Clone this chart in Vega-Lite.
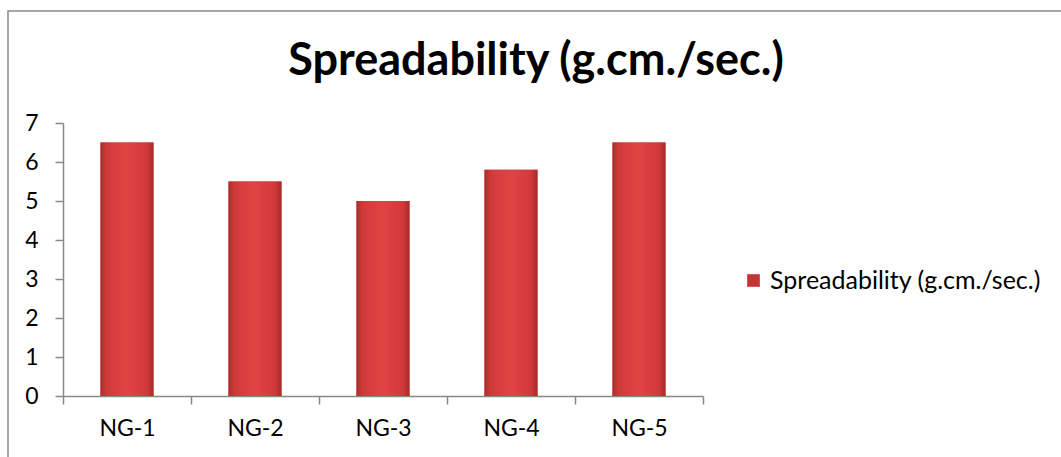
{
  "$schema": "https://vega.github.io/schema/vega-lite/v6.json",
  "width": 1100,
  "height": 500,
  "autosize": {"type": "none"},
  "padding": {"left": 8, "top": 11, "right": 0, "bottom": 0},
  "background": "white",
  "config": {"view": {"stroke": "#8a8a8a", "strokeWidth": 1.5}, "font": "Lato"},
  "title": {
    "text": "Spreadability (g.cm./sec.)",
    "font": "Lato",
    "fontSize": 45,
    "fontWeight": "bold",
    "color": "#000000",
    "anchor": "middle",
    "offset": 0,
    "baseline": "alphabetic",
    "dy": 109,
    "dx": -22
  },
  "data": {
    "values": [
      {"sample": "NG-1", "value": 6.5, "series": "Spreadability (g.cm./sec.)"},
      {"sample": "NG-2", "value": 5.5, "series": "Spreadability (g.cm./sec.)"},
      {"sample": "NG-3", "value": 5.0, "series": "Spreadability (g.cm./sec.)"},
      {"sample": "NG-4", "value": 5.8, "series": "Spreadability (g.cm./sec.)"},
      {"sample": "NG-5", "value": 6.5, "series": "Spreadability (g.cm./sec.)"}
    ]
  },
  "encoding": {
    "x": {
      "field": "sample",
      "type": "nominal",
      "sort": null,
      "scale": {"range": [55, 695], "paddingInner": 0, "paddingOuter": 0},
      "axis": {
        "orient": "bottom",
        "offset": -115,
        "title": null,
        "tickBand": "extent",
        "labelAngle": 0,
        "domainColor": "#888888",
        "domainWidth": 1.5,
        "tickColor": "#888888",
        "tickWidth": 1.5,
        "tickSize": 8,
        "labelFont": "Lato",
        "labelFontSize": 23,
        "labelColor": "#000000",
        "labelPadding": 13,
        "grid": false
      }
    },
    "y": {
      "field": "value",
      "type": "quantitative",
      "scale": {"domain": [0, 7], "range": [385, 112], "nice": false, "zero": true},
      "axis": {
        "orient": "left",
        "offset": -55,
        "title": null,
        "values": [0, 1, 2, 3, 4, 5, 6, 7],
        "grid": false,
        "domainColor": "#888888",
        "domainWidth": 1.5,
        "tickColor": "#888888",
        "tickWidth": 1.5,
        "tickSize": 8,
        "labelFont": "Lato",
        "labelFontSize": 23,
        "labelColor": "#000000",
        "labelPadding": 17
      }
    }
  },
  "layer": [
    {
      "mark": {"type": "bar", "width": {"band": 0.414}},
      "encoding": {
        "color": {
          "field": "series",
          "type": "nominal",
          "scale": {"range": ["#C63535"]},
          "legend": {
            "orient": "none",
            "legendX": 733,
            "legendY": 257,
            "title": null,
            "symbolType": "square",
            "symbolSize": 160,
            "symbolStrokeWidth": 0,
            "labelFont": "Lato",
            "labelFontSize": 25,
            "labelColor": "#000000",
            "labelOffset": 4,
            "labelLimit": 400
          }
        }
      }
    },
    {
      "mark": {
        "type": "bar",
        "width": {"band": 0.414},
        "color": {
          "gradient": "linear",
          "x1": 0, "x2": 1, "y1": 0, "y2": 0,
          "stops": [
            {"offset": 0, "color": "#A92D2D"},
            {"offset": 0.12, "color": "#D23A3A"},
            {"offset": 0.5, "color": "#E24444"},
            {"offset": 0.88, "color": "#D03939"},
            {"offset": 1, "color": "#A52B2B"}
          ]
        }
      }
    }
  ]
}
